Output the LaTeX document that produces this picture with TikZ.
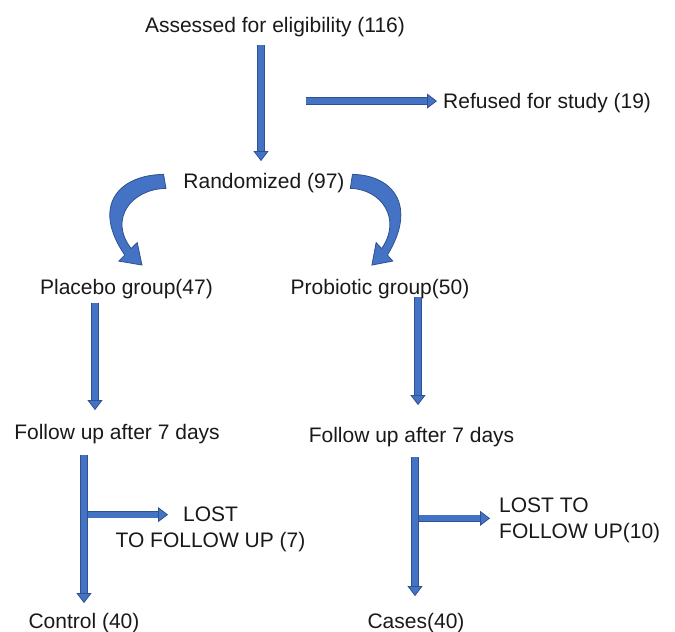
\documentclass[tikz,border=0pt]{standalone}
\usepackage{fontspec}
\setmainfont{Liberation Sans}
\usetikzlibrary{arrows.meta, positioning, calc}
\definecolor{ArrowBlue}{RGB}{68,114,196}
\definecolor{ArrowEdge}{RGB}{47,82,143}
\definecolor{TextGray}{RGB}{25,25,25}

\tikzset{
  lbl/.style={inner sep=0pt, anchor=base, text=TextGray},
  flow/.style={line width=6pt, draw=ArrowBlue,
    -{Triangle[width=15pt,length=10pt,line width=0.8pt,color=ArrowEdge,fill=ArrowBlue]},
    preaction={draw=ArrowEdge, line width=7.4pt, -, shorten >=7pt}},
  pics/bentarrow/.style={code={
    \filldraw[fill=ArrowBlue, draw=ArrowEdge, line width=0.8pt, line join=miter]
      (0.3,-6.7) .. controls (-45,-6) and (-72,25) .. (-38.5,74)
      -- (-44.5,80) -- (-21.3,84) -- (-26,61.5) -- (-32.1,67.5)
      .. controls (-55,38) and (-32,8) .. (2.7,7.3) -- cycle;
  }}
}

\begin{document}
\begin{tikzpicture}[x=1pt, y=-1pt, font=\fontsize{21}{26}\selectfont]
\useasboundingbox (0,0) rectangle (675,632);

% ---- boxes of text ----
\node[lbl] (assess) at (275,32.5) {Assessed for eligibility (116)};
\node[lbl, anchor=base west] (refused) at (443,108.5) {Refused for study (19)};
\node[lbl] (rand) at (264,188.5) {Randomized (97)};
\node[lbl] (placebo) at (126.5,294.5) {Placebo group(47)};
\node[lbl] (probiotic) at (380,294.5) {Probiotic group(50)};
\node[lbl] (fu1) at (117,439.5) {Follow up after 7 days};
\node[lbl] (fu2) at (411.5,442.5) {Follow up after 7 days};
\node[lbl, align=center] (lost1) at (210.5,547.5) {LOST\\TO FOLLOW UP (7)};
\node[lbl, anchor=base west, align=left] (lost2) at (499,538.5) {LOST TO\\FOLLOW UP(10)};
\node[lbl] (control) at (84,628.5) {Control (40)};
\node[lbl] (cases) at (416,628.5) {Cases(40)};

% ---- top ----
\draw[flow] ([xshift=-14pt,yshift=-8pt]assess.south) -- ([xshift=-3pt,yshift=12pt]rand.north);
\draw[flow] ([xshift=-137pt,yshift=2pt]refused.west) -- ([xshift=-6pt,yshift=2pt]refused.west);

% ---- randomisation ----
\pic at ([xshift=-20pt,yshift=2pt]rand.west) {bentarrow};
\pic[xscale=-0.9] at ([xshift=8pt,yshift=2pt]rand.east) {bentarrow};

% ---- placebo arm ----
\draw[flow] ([xshift=-31.5pt,yshift=-4pt]placebo.south) -- ([xshift=-22pt,yshift=14pt]fu1.north);
\coordinate (j1) at (control.north |- lost1.north);
\draw[flow] ([yshift=-8pt]j1) -- ([xshift=-42.5pt,yshift=-8pt]lost1.north);
\draw[flow] ([xshift=-33pt,yshift=-11pt]fu1.south) -- ([yshift=10pt]control.north);

% ---- probiotic arm ----
\draw[flow] ([xshift=38pt,yshift=2pt]probiotic.south) -- ([xshift=6.5pt,yshift=22pt]fu2.north);
\coordinate (j2) at (cases.north |- lost2.west);
\draw[flow] ([yshift=2pt]j2) -- ([xshift=-9pt,yshift=2pt]lost2.west);
\draw[flow] ([xshift=3.5pt,yshift=-10pt]fu2.south) -- ([xshift=-1pt,yshift=17pt]cases.north);

\end{tikzpicture}
\end{document}
